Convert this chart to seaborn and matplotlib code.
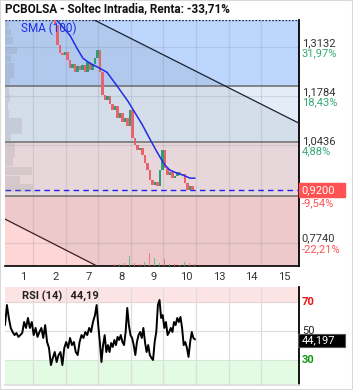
import numpy as np
import pandas as pd
import matplotlib
matplotlib.use("Agg")
import matplotlib.pyplot as plt
import matplotlib.transforms as mtransforms
from matplotlib.patches import Rectangle
import seaborn as sns

sns.set_theme(style="white")
plt.rcParams['font.family'] = ['Roboto', 'DejaVu Sans']

#%%-----------------------------------------------------------------------
# data (x in trading-day units, day k spans [k, k+1])
title = "PCBOLSA - Soltec Intradia, Renta: -33,71%"
day_labels = ['1', '2', '7', '8', '9', '10', '13', '14', '15']

level_prices = [1.3132, 1.1784, 1.0436, 0.7740]
level_labels = ['1,3132', '1,1784', '1,0436', '0,7740']
level_pcts = ['31,97%', '18,43%', '4,88%', '-22,21%']
last_price = 0.9200
last_label = '0,9200'
last_pct = '-9,54%'
buy_price = 1.3875

zone_edges = [0.7107, 0.9033, 1.0519, 1.2059, 1.3885]
zone_colors = ['#fed6d6', '#f9e6e6', '#e3ecf7', '#bdd6fb']

# candles: close prices, evenly spaced between first and last bar
closes = [1.3737, 1.3187, 1.2967, 1.2912, 1.2994, 1.2774, 1.2554, 1.2664, 1.2444, 1.2609,
          1.2499, 1.2637, 1.2444, 1.2719, 1.2499, 1.2664, 1.2829, 1.3049, 1.2444, 1.1812,
          1.1674, 1.1784, 1.1564, 1.1399, 1.1509, 1.1179, 1.1316, 1.1069, 1.1179, 1.0959,
          1.1399, 1.0629, 1.0436, 1.0298, 1.0353, 1.0161, 0.9941, 0.9748, 0.9473, 0.9336,
          0.9418, 0.9308, 0.9748, 1.0298, 0.9803, 0.9611, 0.9693, 0.9528, 0.9583, 0.9693,
          0.9611, 0.9638, 0.9391, 0.9198, 0.9308, 0.9200]
first_open = 1.395
candle_x0, candle_x1 = 1.675, 5.893

# SMA (100)
sma_x = [1.70, 1.736, 1.920, 2.135, 2.350, 2.534, 2.748, 2.994, 3.270, 3.607, 3.914,
         4.344, 4.589, 4.773, 4.896, 5.049, 5.202, 5.417, 5.601, 5.816, 5.969]
sma_y = [1.400, 1.3875, 1.3682, 1.3462, 1.3104, 1.2829, 1.2692, 1.2582, 1.2444, 1.2032, 1.1646,
         1.1014, 1.0601, 1.0298, 1.0106, 0.9886, 0.9748, 0.9666, 0.9611, 0.9528, 0.9528]

# volume (thousands) along the bottom
vol = [3, 1, 1, 1, 1, 2, 5, 1, 3, 2, 4, 2, 1, 2, 1, 12, 1, 1, 2, 3,
       5, 5, 2, 2, 3, 10, 3, 2, 4, 13, 8, 3, 7, 2, 2, 1, 4, 3, 2]
vol_up = [1, 0, 0, 1, 0, 0, 0, 1, 0, 0, 1, 0, 0, 0, 1, 1, 0, 1, 0, 0,
          1, 0, 0, 1, 0, 1, 0, 0, 1, 0, 1, 1, 0, 1, 0, 0, 1, 0, 0]
vol_x0, vol_x1 = 0.141, 5.969

# volume by price (left side profile)
prof_price = [1.3765, 1.3545, 1.3325, 1.3049, 1.2829, 1.2609, 1.2389, 1.2169, 1.1949, 1.1729, 1.1509,
              1.1289, 1.1069, 1.0849, 1.0629, 1.0409, 1.0188, 0.9968, 0.9721, 0.9473, 0.9253]
prof_vol = [4, 6, 8, 12, 6, 9, 9, 5, 4, 5, 3, 4, 17, 17, 6, 10, 10, 8, 27, 15, 28]

# trend channel, two anchor points per line
chan_top = [(2.90, 1.3875), (9.16, 1.1041)]
chan_bot = [(0.141, 0.8400), (2.963, 0.7107)]

# RSI (14), two stretches read separately
rsi_a = [54.1, 67.9, 59.0, 52.1, 49.3, 47.2, 48.6, 45.9, 47.2, 48.6, 56.2, 52.1, 59.0, 52.1, 56.2, 47.2,
         52.1, 45.9, 49.3, 52.1, 45.2, 54.1, 42.4, 38.3, 26.5, 31.4, 35.5, 28.6, 33.4, 35.5, 26.5, 38.3,
         42.4, 38.3, 45.2, 40.3, 42.4, 35.5, 33.4, 42.4, 47.2, 45.2, 49.3, 47.2, 52.1, 49.3, 56.2]
rsi_a_x = (0.141, 2.840)
rsi_b = [61.0, 67.9, 54.1, 42.4, 28.6, 40.3, 47.2, 35.5, 40.3, 35.5, 41.7, 39.0, 43.8, 40.3, 45.9, 43.8,
         47.2, 42.4, 40.3, 49.3, 65.9, 54.1, 47.2, 45.2, 40.3, 33.4, 42.4, 47.2, 49.3, 45.2, 52.1, 42.4,
         35.5, 40.3, 33.4, 31.4, 30.0, 42.4, 49.3, 67.9, 71.4, 59.0, 61.0, 52.1, 56.2, 47.2, 49.3, 52.1,
         49.3, 56.2, 54.1, 59.0, 56.2, 59.7, 52.1, 40.3, 42.4, 38.3, 32.1, 42.4, 49.3, 45.2, 44.19]
rsi_b_x = (2.902, 5.969)
rsi_label = 'RSI (14)   44,19'
rsi_last = '44,197'

#%%-----------------------------------------------------------------------
xlim = (0.141, 9.16)

fig = plt.figure(figsize=(3.53, 3.90), dpi=100)
fig.patch.set_facecolor('white')
ax = fig.add_axes([5 / 353, 124 / 390, 294 / 353, 246 / 390])
ax_r = fig.add_axes([5 / 353, 5 / 390, 294 / 353, 98 / 390])

# price zones
for lo, hi, c in zip(zone_edges[:-1], zone_edges[1:], zone_colors):
    ax.axhspan(lo, hi, color=c, lw=0, zorder=0)
for e in zone_edges[1:-1]:
    ax.axhline(e, color='#6b6b6b', lw=1.1, zorder=2)

# channel between the two diagonal lines
def line_at(pts, xs):
    (x0, y0), (x1, y1) = pts
    return y0 + (y1 - y0) / (x1 - x0) * (np.asarray(xs) - x0)

cx = np.array([xlim[0] - 0.5, xlim[1] + 0.5])
ax.fill_between(cx, line_at(chan_bot, cx), line_at(chan_top, cx), color='#1a2a4a', alpha=0.075, lw=0, zorder=1)
ax.plot(cx, line_at(chan_top, cx), color='#1c2233', lw=0.9, zorder=3)
ax.plot(cx, line_at(chan_bot, cx), color='#3a1f22', lw=0.9, zorder=3)

# grid
for k in range(1, 9):
    ax.axvline(k, color='#6a7a90', alpha=0.18, lw=0.9, zorder=1)
    ax_r.axvline(k, color='#dddddd', lw=0.9, zorder=1)
for p in level_prices:
    ax.axhline(p, color='#6a7a90', alpha=0.18, lw=0.9, zorder=1)

ax.axhline(buy_price, color='#1c2a55', lw=1.0, ls=(0, (1.2, 1.2)), zorder=4)
ax.axhline(last_price, color='#2020ee', lw=1.0, ls=(0, (4, 3)), zorder=4)

# candles (open = previous close)
cxs = np.linspace(candle_x0, candle_x1, len(closes))
opens = [first_open] + closes[:-1]
candles = pd.DataFrame({'x': cxs, 'open': opens, 'close': closes})
candles['up'] = candles['close'] > candles['open']
ax.bar(candles['x'], candles['close'] - candles['open'], bottom=candles['open'], width=0.065,
       color=np.where(candles['up'], '#2e9c78', '#e8636a'), lw=0, zorder=5)

# SMA
sns.lineplot(x=sma_x, y=sma_y, sort=False, color='#1e2ee6', lw=1.1, ax=ax, zorder=6)
ax.text(16 / 294, 1 - 8 / 246, 'SMA (100)', transform=ax.transAxes, color='#1e2ee6',
        fontsize=8.5, va='center', ha='left', zorder=7)

ax.set_xlim(xlim)
ax.set_ylim(zone_edges[0], zone_edges[-1])
ax.set_xticks([k + 0.7 for k in range(9)])
ax.set_xticklabels(day_labels)
ax.set_yticks([])
ax.tick_params(axis='x', length=0, pad=4, labelsize=8, colors='#333333')
for s in ['left', 'top']:
    ax.spines[s].set_visible(False)
ax.spines['right'].set_color('black')
ax.spines['right'].set_linewidth(1.3)
ax.spines['bottom'].set_color('black')
ax.spines['bottom'].set_linewidth(1.2)

# volume profile on the left (twin axes drawn above the zones)
ax_p = ax.twiny()
ax_p.set_xlim(0, 294)
ax_p.set_ylim(zone_edges[0], zone_edges[-1])
ax_p.barh(prof_price, prof_vol, height=0.021, left=0, color='#8c8c8c', alpha=0.2, lw=0)
ax_p.axis('off')

# volume bars along the bottom
ax_v = ax.twinx()
ax_v.set_ylim(0, 246)
vx = np.linspace(vol_x0, vol_x1, len(vol))
vcol = ['#55b088' if u else '#ee6b6b' for u in vol_up]
ax_v.bar(vx, vol, width=0.03, color=vcol, alpha=0.8, lw=0)
ax_v.set_xlim(xlim)
ax_v.axis('off')

# right-hand labels
trans = mtransforms.blended_transform_factory(ax.transAxes, ax.transData)
for p, lab, pct in zip(level_prices, level_labels, level_pcts):
    pc = '#ff5555' if pct.startswith('-') else '#35aa78'
    ax.annotate(lab, xy=(1, p), xycoords=trans, xytext=(2, 1), textcoords='offset points',
                va='baseline', ha='left', fontsize=8, color='#333333', annotation_clip=False)
    ax.annotate(pct, xy=(1, p), xycoords=trans, xytext=(2, -0.5), textcoords='offset points',
                va='top', ha='left', fontsize=8, color=pc, annotation_clip=False)

ax.add_patch(Rectangle((1.0, last_price - 0.0193), 46 / 294, 0.0386, transform=trans,
                       color='#ff5252', clip_on=False, zorder=8))
ax.annotate(last_label, xy=(1, last_price), xycoords=trans, xytext=(2, 0), textcoords='offset points',
            va='center', ha='left', fontsize=8, color='white', annotation_clip=False, zorder=9)
ax.annotate(last_pct, xy=(1, last_price - 0.0193), xycoords=trans, xytext=(2, -0.5),
            textcoords='offset points', va='top', ha='left', fontsize=8, color='#ff5555',
            annotation_clip=False)

#%%-----------------------------------------------------------------------
# RSI panel
ax_r.set_facecolor('white')
ax_r.axhspan(70, 90, color='#fde4e4', lw=0, zorder=0)
ax_r.axhspan(0, 30, color='#e3fbe3', lw=0, zorder=0)
ax_r.axhline(50, color='#dddddd', lw=0.9, zorder=1)
ax_r.axhline(70, color='#e6d6d6', lw=0.8, zorder=1)
ax_r.axhline(30, color='#d6e6d6', lw=0.8, zorder=1)

rsi_x = np.concatenate([np.linspace(*rsi_a_x, len(rsi_a)), np.linspace(*rsi_b_x, len(rsi_b))])
rsi_df = pd.DataFrame({'x': rsi_x, 'rsi': rsi_a + rsi_b})
sns.lineplot(data=rsi_df, x='x', y='rsi', sort=False, color='black', lw=1.4, ax=ax_r, zorder=3)

ax_r.set_xlim(xlim)
ax_r.set_ylim(12.74, 80.36)
ax_r.set_xticks([])
ax_r.set_yticks([])
ax_r.set_xlabel('')
ax_r.set_ylabel('')
for s in ['left', 'top']:
    ax_r.spines[s].set_visible(False)
ax_r.spines['bottom'].set_color('#dddddd')
ax_r.spines['right'].set_color('black')
ax_r.spines['right'].set_linewidth(1.3)

ax_r.text(17 / 294, 1 - 9 / 98, rsi_label, transform=ax_r.transAxes, fontsize=8, fontweight='bold',
          color='#222222', va='center', ha='left')

rtrans = mtransforms.blended_transform_factory(ax_r.transAxes, ax_r.transData)
ax_r.text(1.01, 70, '70', transform=rtrans, color='#ee1111', fontsize=8, fontweight='bold', va='center')
ax_r.text(1.01, 50, '50', transform=rtrans, color='#222222', fontsize=8, va='center')
ax_r.text(1.01, 30, '30', transform=rtrans, color='#119911', fontsize=8, fontweight='bold', va='center')
ax_r.add_patch(Rectangle((0.997, 39.0), 47 / 294, 8.9, transform=rtrans, facecolor='black',
                         edgecolor='#555555', lw=0.8, clip_on=False, zorder=8))
ax_r.text(1.01, 43.5, rsi_last, transform=rtrans, color='white', fontsize=8, va='center', zorder=9)

# title and frame
fig.text(5 / 353, 1 - 9 / 390, title, fontsize=8.5, fontweight='bold', color='#111111', va='center', ha='left')
fig.patches.append(Rectangle((0, 0), 1, 1, transform=fig.transFigure, fill=False,
                             edgecolor='#d9d9d9', lw=1.5))

plt.savefig('out.png', dpi=100)
